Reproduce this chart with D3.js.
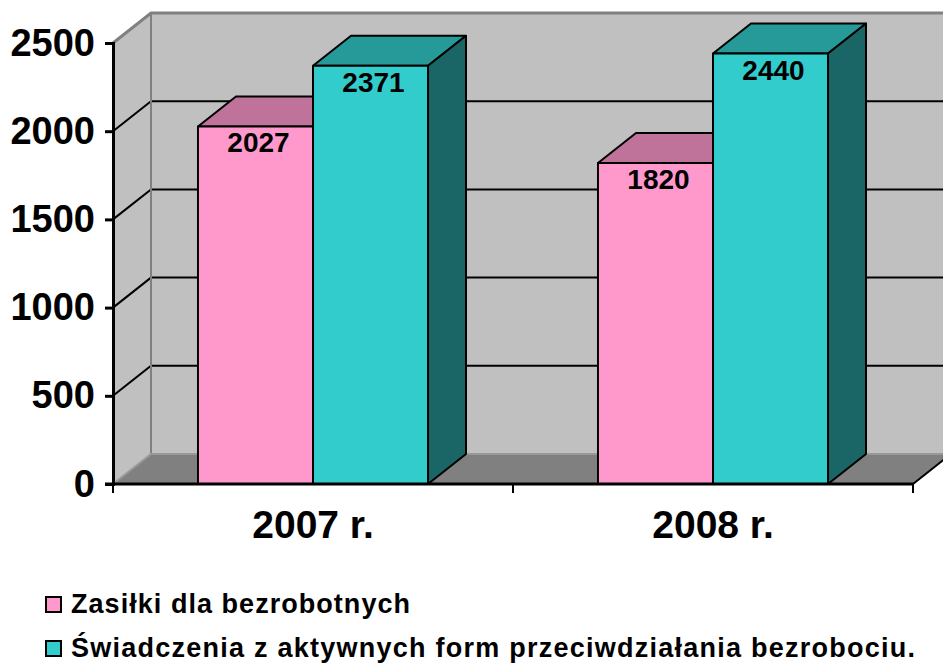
<!DOCTYPE html>
<html>
<head>
<meta charset="utf-8">
<script src="https://cdn.jsdelivr.net/npm/d3@7"></script>
<style>
  body { margin: 0; background: #fff; }
  svg { display: block; font-family: Arial, "Liberation Sans", sans-serif; font-weight: bold; }
</style>
</head>
<body>
<div id="chart"></div>
<script>
const years = ['2007 r.', '2008 r.'];
const series = ['Zasiłki dla bezrobotnych', 'Świadczenia z aktywnych form przeciwdziałania bezrobociu.'];
const zasilki = [2027, 1820];
const swiadczenia = [2371, 2440];
const yTicks = [0, 500, 1000, 1500, 2000, 2500];

const colors = [
  { front: '#FF99CC', top: '#C0739A', side: '#804D66' },
  { front: '#33CCCC', top: '#269999', side: '#1A6666' }
];

const width = 943;
const height = 663;
// depth offset of the 3D box
const dx = 38, dy = -30;

const svg = d3.select('#chart')
  .append('svg')
  .attr('width', width)
  .attr('height', height);

const y = d3.scaleLinear().domain([0, 2500]).range([484, 43]);
const x0 = d3.scaleBand().domain(years).range([113, 913]);
const x1 = d3.scaleBand().domain(series).range([0, x0.bandwidth()]).paddingInner(0).paddingOuter(0.739);

const left = x0.range()[0], right = x0.range()[1];
const yTop = y(2500), yBase = y(0);

// back wall
svg.append('rect')
  .attr('x', left + dx).attr('y', yTop + dy)
  .attr('width', width + 20 - left - dx).attr('height', yBase - yTop)
  .attr('fill', '#C0C0C0');

// left wall
svg.append('path')
  .attr('d', `M${left},${yBase} L${left},${yTop} L${left + dx},${yTop + dy} L${left + dx},${yBase + dy} Z`)
  .attr('fill', '#C0C0C0');

// floor
svg.append('path')
  .attr('d', `M${left},${yBase} L${left + dx},${yBase + dy} L${right + dx},${yBase + dy} L${right},${yBase} Z`)
  .attr('fill', '#808080');

// gridlines on back and left wall
const grid = svg.append('g');
yTicks.filter(t => t > 0 && t < 2500).forEach(t => {
  grid.append('path')
    .attr('d', `M${left},${y(t)} L${left + dx},${y(t) + dy} L${width + 20},${y(t) + dy}`)
    .attr('fill', 'none').attr('stroke', '#000').attr('stroke-width', 2);
});

// wall edges
const edges = svg.append('g').attr('fill', 'none').attr('stroke', '#808080').attr('stroke-width', 3);
edges.append('path').attr('d', `M${left},${yTop} L${left + dx},${yTop + dy} L${width + 20},${yTop + dy}`);
edges.append('path').attr('d', `M${left + dx},${yTop + dy} L${left + dx},${yBase + dy}`).attr('stroke-width', 2);
edges.append('path').attr('d', `M${left},${yBase} L${left + dx},${yBase + dy} L${right + dx},${yBase + dy}`).attr('stroke', '#999').attr('stroke-width', 2);
svg.append('path')
  .attr('d', `M${right},${yBase} L${right + dx},${yBase + dy}`)
  .attr('stroke', '#000').attr('stroke-width', 2);

// bars
const values = [zasilki, swiadczenia];
const bars = svg.append('g').attr('stroke', '#000').attr('stroke-width', 2).attr('stroke-linejoin', 'round');
years.forEach((yr, i) => {
  series.forEach((s, j) => {
    const v = values[j][i];
    const xa = x0(yr) + x1(s);
    const xb = xa + x1.bandwidth();
    const yt = y(v);
    bars.append('path')
      .attr('d', `M${xa},${yt} L${xa + dx},${yt + dy} L${xb + dx},${yt + dy} L${xb},${yt} Z`)
      .attr('fill', colors[j].top);
    bars.append('path')
      .attr('d', `M${xb},${yt} L${xb + dx},${yt + dy} L${xb + dx},${yBase + dy} L${xb},${yBase} Z`)
      .attr('fill', colors[j].side);
    bars.append('rect')
      .attr('x', xa).attr('y', yt)
      .attr('width', xb - xa).attr('height', yBase - yt)
      .attr('fill', colors[j].front);
  });
});

// value labels
const labels = svg.append('g').attr('font-size', 28).attr('text-anchor', 'middle');
years.forEach((yr, i) => {
  series.forEach((s, j) => {
    const v = values[j][i];
    labels.append('text')
      .attr('x', x0(yr) + x1(s) + x1.bandwidth() / 2 + 3)
      .attr('y', y(v) + 26)
      .text(v);
  });
});

// y axis
const yAxis = svg.append('g')
  .attr('transform', `translate(${left},0)`)
  .call(d3.axisLeft(y).tickValues(yTicks).tickFormat(d3.format('d')).tickSize(8).tickPadding(10));
yAxis.select('.domain').attr('stroke', '#000').attr('stroke-width', 3);
yAxis.selectAll('.tick line').attr('stroke', '#000').attr('stroke-width', 3);
yAxis.selectAll('.tick text').attr('font-size', 38).attr('font-weight', 'bold').attr('font-family', 'Arial, "Liberation Sans", sans-serif').attr('fill', '#000');

// x axis
const xAxis = svg.append('g');
xAxis.append('line')
  .attr('x1', left - 8).attr('x2', right)
  .attr('y1', yBase).attr('y2', yBase)
  .attr('stroke', '#000').attr('stroke-width', 3);
[left, ...years.map(d => x0(d) + x0.bandwidth())].forEach(xv => {
  xAxis.append('line')
    .attr('x1', xv).attr('x2', xv)
    .attr('y1', yBase).attr('y2', yBase + 9)
    .attr('stroke', '#000').attr('stroke-width', 2);
});
xAxis.selectAll('text.cat')
  .data(years)
  .join('text')
  .attr('class', 'cat')
  .attr('x', d => x0(d) + x0.bandwidth() / 2)
  .attr('y', 538)
  .attr('text-anchor', 'middle')
  .attr('font-size', 39)
  .text(d => d);

// legend
const legendW = [339, 844];
const legend = svg.append('g');
series.forEach((s, j) => {
  const ly = 613 + j * 44;
  legend.append('rect')
    .attr('x', 46).attr('y', ly - 16)
    .attr('width', 15).attr('height', 15)
    .attr('fill', colors[j].front)
    .attr('stroke', '#000').attr('stroke-width', 2);
  legend.append('text')
    .attr('x', 71).attr('y', ly)
    .attr('font-size', 27)
    .attr('textLength', legendW[j])
    .attr('lengthAdjust', 'spacing')
    .text(s);
});
</script>
</body>
</html>
